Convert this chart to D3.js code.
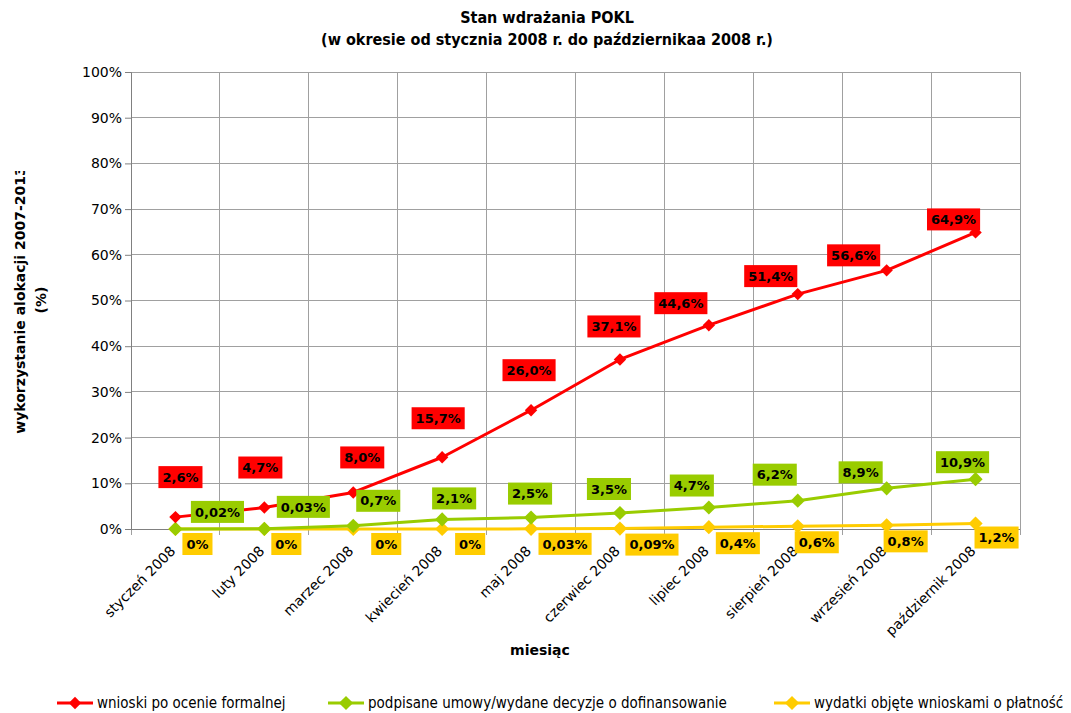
<!DOCTYPE html>
<html>
<head>
<meta charset="utf-8">
<script src="https://cdn.jsdelivr.net/npm/d3@7"></script>
<style>
  body { margin: 0; background: #fff; }
  svg { display: block; }
</style>
</head>
<body>
<div id="chart"></div>
<script>
// miesiace (kategorie osi X)
const months = ['styczeń 2008', 'luty 2008', 'marzec 2008', 'kwiecień 2008', 'maj 2008',
  'czerwiec 2008', 'lipiec 2008', 'sierpień 2008', 'wrzesień 2008', 'październik 2008'];

// serie w %
const wnioski = [2.6, 4.7, 8.0, 15.7, 26.0, 37.1, 44.6, 51.4, 56.6, 64.9];
const umowy = [0.02, 0.03, 0.7, 2.1, 2.5, 3.5, 4.7, 6.2, 8.9, 10.9];
const wydatki = [0, 0, 0, 0, 0.03, 0.09, 0.4, 0.6, 0.8, 1.2];

const yTicks = [0, 10, 20, 30, 40, 50, 60, 70, 80, 90, 100];

// przesuniecia etykiet wzgledem punktu (reczne ulozenie jak w Excelu)
const nudgeRed = [[5, -40], [-4, -40], [9, -35], [-4, -39], [-2, -40], [-6, -33], [-28, -22], [-27, -18], [-33, -15], [-22, -13]];
const nudgeGreen = [[42, -17], [39, -22], [25, -25], [12, -21], [-1, -24], [-11, -24], [-17, -22], [-23, -26], [-26, -16], [-13, -17]];
const nudgeYellow = [[22, 15], [22, 15], [33, 15], [28, 15], [34, 15], [32, 16], [29, 16], [19, 16], [19, 16], [21, 14]];

const W = 1071, H = 713;
const margin = { top: 72, right: 51, bottom: 184, left: 131 };
const innerW = W - margin.left - margin.right;
const innerH = H - margin.top - margin.bottom;

const fmt = v => String(v).replace('.', ',') + '%';
const fmt1 = v => v.toFixed(1).replace('.', ',') + '%';

const series = [
  { name: 'wnioski po ocenie formalnej', values: wnioski, color: '#ff0000', width: 3, r: 7, label: fmt1, nudge: nudgeRed },
  { name: 'podpisane umowy/wydane decyzje o dofinansowanie', values: umowy, color: '#99cc00', width: 3, r: 8, label: fmt, nudge: nudgeGreen },
  { name: 'wydatki objęte wnioskami o płatność', values: wydatki, color: '#ffcc00', width: 3, r: 8, label: fmt, nudge: nudgeYellow }
];

const svg = d3.select('#chart').append('svg')
  .attr('width', W).attr('height', H);

const g = svg.append('g').attr('transform', `translate(${margin.left},${margin.top})`);

const x = d3.scaleBand().domain(months).range([0, innerW]);
const y = d3.scaleLinear().domain([0, 100]).range([innerH, 0]);
const cx = m => x(m) + x.bandwidth() / 2;

// siatka pozioma
g.append('g').selectAll('line').data(yTicks).join('line')
  .attr('x1', 0).attr('x2', innerW)
  .attr('y1', d => y(d)).attr('y2', d => y(d))
  .attr('stroke', '#a0a0a0').attr('stroke-width', 1).attr('shape-rendering', 'crispEdges');

// siatka pionowa (granice kategorii)
const bounds = months.map(m => x(m)).concat([innerW]);
g.append('g').selectAll('line').data(bounds).join('line')
  .attr('x1', d => d).attr('x2', d => d)
  .attr('y1', 0).attr('y2', innerH + 6)
  .attr('stroke', '#a0a0a0').attr('stroke-width', 1).attr('shape-rendering', 'crispEdges');

// os Y
const yAxis = g.append('g')
  .call(d3.axisLeft(y).tickValues(yTicks).tickFormat(d => d + '%').tickSize(6).tickPadding(3));
yAxis.select('.domain').attr('stroke', '#808080');
yAxis.selectAll('.tick line').attr('stroke', '#808080');
yAxis.selectAll('text').attr('font-family', 'DejaVu Sans, Verdana, sans-serif').attr('font-size', 14).attr('fill', '#000');

// os X
g.append('line').attr('x1', 0).attr('x2', innerW).attr('y1', innerH).attr('y2', innerH)
  .attr('stroke', '#808080').attr('shape-rendering', 'crispEdges');

g.append('g').selectAll('text').data(months).join('text')
  .attr('transform', d => `translate(${cx(d) - 6},${innerH + 16}) rotate(-45)`)
  .attr('text-anchor', 'end')
  .attr('dy', '0.7em')
  .attr('font-family', 'DejaVu Sans, Verdana, sans-serif')
  .attr('font-size', 14)
  .text(d => d);

// linie serii
const line = d3.line().x((d, i) => cx(months[i])).y(d => y(d));
const diamond = d3.symbol().type(d3.symbolDiamond2);

series.slice().reverse().forEach(s => {
  g.append('path').datum(s.values)
    .attr('d', line)
    .attr('fill', 'none')
    .attr('stroke', s.color)
    .attr('stroke-width', s.width)
    .attr('stroke-linejoin', 'round');
  g.append('g').selectAll('path').data(s.values).join('path')
    .attr('transform', (d, i) => `translate(${cx(months[i])},${y(d)})`)
    .attr('d', diamond.size(s.r * s.r * 2)())
    .attr('fill', s.color);
});

// etykiety danych
series.forEach(s => {
  const lg = g.append('g');
  s.values.forEach((v, i) => {
    const px = cx(months[i]) + s.nudge[i][0];
    const py = y(v) + s.nudge[i][1];
    const item = lg.append('g').attr('transform', `translate(${px},${py})`);
    const rect = item.append('rect').attr('fill', s.color);
    const t = item.append('text')
      .attr('text-anchor', 'middle')
      .attr('dy', '0.36em')
      .attr('font-family', 'DejaVu Sans, Verdana, sans-serif')
      .attr('font-weight', 'bold')
      .attr('font-size', 13)
      .text(s.label(v));
    const bb = t.node().getBBox();
    rect.attr('x', -bb.width / 2 - 4).attr('y', -11)
      .attr('width', bb.width + 8).attr('height', 22);
  });
});

// tytul
const title = svg.append('text')
  .attr('x', 537).attr('y', 23)
  .attr('text-anchor', 'middle')
  .attr('font-family', 'DejaVu Sans Condensed, DejaVu Sans, sans-serif')
  .attr('font-weight', 'bold')
  .attr('font-size', 16);
title.append('tspan').attr('x', 547).text('Stan wdrażania POKL');
title.append('tspan').attr('x', 547).attr('dy', 22).text('(w okresie od stycznia 2008 r. do październikaa 2008 r.)');

// tytul osi Y (obciety u gory jak w oryginale)
svg.append('clipPath').attr('id', 'yclip')
  .append('rect').attr('x', 0).attr('y', 171).attr('width', 80).attr('height', 400);
const yt = svg.append('g').attr('clip-path', 'url(#yclip)')
  .append('text')
  .attr('transform', 'translate(25,300) rotate(-90)')
  .attr('text-anchor', 'middle')
  .attr('font-family', 'DejaVu Sans, Verdana, sans-serif')
  .attr('font-weight', 'bold')
  .attr('font-size', 14);
yt.append('tspan').attr('x', 0).text('wykorzystanie alokacji 2007-2013');
yt.append('tspan').attr('x', 0).attr('dy', 21).text('(%)');

// tytul osi X
svg.append('text')
  .attr('x', 540).attr('y', 655)
  .attr('text-anchor', 'middle')
  .attr('font-family', 'DejaVu Sans, Verdana, sans-serif')
  .attr('font-weight', 'bold')
  .attr('font-size', 14)
  .text('miesiąc');

// legenda
const legendX = [57, 328, 774];
const legend = svg.append('g').attr('transform', 'translate(0,703)');
series.forEach((s, i) => {
  const it = legend.append('g').attr('transform', `translate(${legendX[i]},0)`);
  it.append('line').attr('x1', 0).attr('x2', 36).attr('stroke', s.color).attr('stroke-width', 3);
  it.append('path').attr('transform', 'translate(18,0)').attr('d', diamond.size(s.r * s.r * 2)()).attr('fill', s.color);
  it.append('text').attr('x', 40).attr('dy', '0.35em')
    .attr('font-family', 'DejaVu Sans Condensed, DejaVu Sans, sans-serif')
    .attr('font-size', 15)
    .text(s.name);
});
</script>
</body>
</html>
